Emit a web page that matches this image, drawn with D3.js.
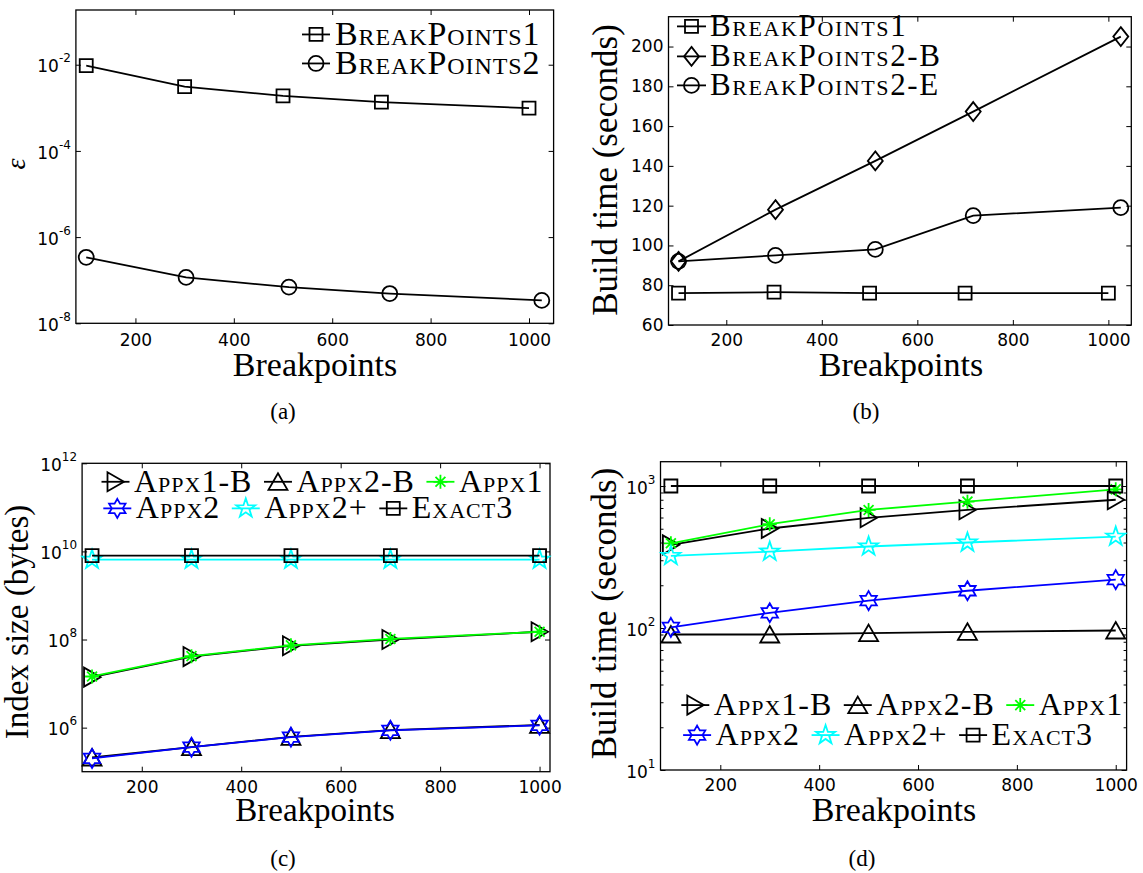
<!DOCTYPE html>
<html><head><meta charset="utf-8">
<script src="https://cdn.jsdelivr.net/npm/d3@7"></script>
<style>body{margin:0;background:#fff} svg{display:block;background:#fff}</style>
</head><body>
<svg id="chart" width="1143" height="873"></svg>
<script>
// ---------------- data ----------------
const xTicks = [200, 400, 600, 800, 1000];
const xBP1 = [100, 300, 500, 700, 1000];
const xBP2 = [100, 303, 512, 717, 1026];
const xAppx = [100, 300, 500, 700, 1000];

// (a) error epsilon
const epsBP1 = [9.5e-3, 3.1e-3, 1.9e-3, 1.36e-3, 9.8e-4];
const epsBP2 = [3.4e-7, 1.16e-7, 6.9e-8, 4.9e-8, 3.4e-8];
const epsTicks = [1e-8, 1e-6, 1e-4, 1e-2];

// (b) build time (seconds)
const timeBP1 = [76, 76.5, 76, 76, 76];
const timeBP2B = [92, 118, 142.5, 167.3, 205];
const timeBP2E = [92, 95, 98, 115, 119];
const timeTicksB = [60, 80, 100, 120, 140, 160, 180, 200];

// (c) index size (bytes)
const sizeAppx1B = [1.4e7, 4.1e7, 7.2e7, 1.0e8, 1.5e8];
const sizeAppx2B = [2.1e5, 3.6e5, 6.2e5, 8.8e5, 1.15e6];
const sizeAppx1 = [1.45e7, 4.2e7, 7.4e7, 1.03e8, 1.5e8];
const sizeAppx2 = [2.0e5, 3.6e5, 6.1e5, 8.7e5, 1.13e6];
const sizeAppx2p = [6.5e9, 6.5e9, 6.5e9, 6.5e9, 6.5e9];
const sizeExact3 = [8e9, 8e9, 8e9, 8e9, 8e9];
const sizeTicks = [1e6, 1e8, 1e10, 1e12];

// (d) build time (seconds)
const timeAppx1B = [385, 502, 597, 680, 800];
const timeAppx2B = [90, 90, 92, 94, 96];
const timeAppx1 = [395, 538, 678, 776, 948];
const timeAppx2 = [101, 128, 156, 183, 219];
const timeAppx2p = [322, 345, 375, 400, 440];
const timeExact3 = [1000, 1000, 1000, 1000, 1000];
const timeTicksD = [10, 100, 1000];

// ---------------- drawing ----------------
const SERIF = "'Liberation Serif','Times New Roman',serif";
const SANS = "'DejaVu Sans',Verdana,sans-serif";
const svg = d3.select("#chart");
svg.append("rect").attr("width", 1143).attr("height", 873).attr("fill", "#fff");

function starPath(n, R, r) {
  const pts = [];
  for (let i = 0; i < 2 * n; i++) {
    const a = -Math.PI / 2 + i * Math.PI / n;
    const rad = i % 2 === 0 ? R : r;
    pts.push([rad * Math.cos(a), rad * Math.sin(a)]);
  }
  return "M" + pts.map(p => p[0].toFixed(2) + "," + p[1].toFixed(2)).join("L") + "Z";
}
const MARKERS = {
  square: s => { const h = s / 2; return `M${-h},${-h}H${h}V${h}H${-h}Z`; },
  circle: r => `M${r},0A${r},${r} 0 1,1 ${-r},0A${r},${r} 0 1,1 ${r},0Z`,
  diamond: () => "M0,-9.5L7.5,0L0,9.5L-7.5,0Z",
  triRight: () => "M8.5,0L-8,-9.5L-8,9.5Z",
  triUp: () => "M0,-8.5L9.5,8L-9.5,8Z",
  hexagram: () => starPath(6, 9.5, 9.5 / Math.sqrt(3)),
  pentagram: () => starPath(5, 10, 3.9),
  asterisk: () => { const R = 7, d = R * 0.7071; return `M0,${-R}V${R}M${-R},0H${R}M${-d},${-d}L${d},${d}M${-d},${d}L${d},${-d}`; }
};
function markerPath(m) {
  if (m === "square") return MARKERS.square(13);
  if (m === "circle") return MARKERS.circle(7.5);
  return MARKERS[m]();
}

function drawPanel(p) {
  const g = svg.append("g");
  const x = d3.scaleLinear().domain(p.xDomain).range([p.left, p.right]);
  const y = (p.log ? d3.scaleLog() : d3.scaleLinear()).domain(p.yDomain).range([p.bottom, p.top]);

  const styleAxis = sel => {
    sel.select(".domain").remove();
    sel.attr("font-family", SANS).attr("font-size", 17);
    sel.selectAll(".tick line").attr("stroke", "#000").attr("stroke-width", 1);
    sel.selectAll(".tick text").attr("fill", "#000");
  };
  g.append("g").attr("transform", `translate(0,${p.bottom})`)
    .call(d3.axisBottom(x).tickValues(xTicks).tickSize(-5).tickPadding(p.xPad).tickFormat(d3.format("d")))
    .call(styleAxis);
  g.append("g").attr("transform", `translate(0,${p.top})`)
    .call(d3.axisTop(x).tickValues(xTicks).tickSize(-5).tickFormat(""))
    .call(styleAxis);
  const left = g.append("g").attr("transform", `translate(${p.left},0)`)
    .call(d3.axisLeft(y).tickValues(p.yTicks).tickSize(-5).tickPadding(5).tickFormat(p.log ? (() => "") : d3.format("d")))
    .call(styleAxis);
  if (p.log) {
    left.selectAll(".tick text").attr("dy", "0.42em").each(function (d) {
      const e = Math.round(Math.log10(d));
      const t = d3.select(this);
      t.text(null);
      t.append("tspan").text("10");
      t.append("tspan").attr("dy", -10).attr("font-size", 12).text(String(e));
    });
  }
  g.append("g").attr("transform", `translate(${p.right},0)`)
    .call(d3.axisRight(y).tickValues(p.yTicks).tickSize(-5).tickFormat(""))
    .call(styleAxis);
  if (p.minor) {
    g.append("g").attr("transform", `translate(${p.left},0)`)
      .call(d3.axisLeft(y).tickValues(p.minor).tickSize(-3).tickFormat("")).call(styleAxis);
    g.append("g").attr("transform", `translate(${p.right},0)`)
      .call(d3.axisRight(y).tickValues(p.minor).tickSize(-3).tickFormat("")).call(styleAxis);
  }
  g.append("rect").attr("x", p.left).attr("y", p.top)
    .attr("width", p.right - p.left).attr("height", p.bottom - p.top)
    .attr("fill", "none").attr("stroke", "#000").attr("stroke-width", 1.3);

  // series
  const line = d3.line().x(d => x(d[0])).y(d => y(d[1]));
  p.series.forEach(s => {
    const pts = s.x.map((xv, i) => [xv, s.y[i]]);
    const sg = g.append("g");
    sg.append("path").attr("d", line(pts)).attr("fill", "none")
      .attr("stroke", s.color).attr("stroke-width", 1.8);
    sg.selectAll("path.mk").data(pts).join("path").attr("class", "mk")
      .attr("d", markerPath(s.marker))
      .attr("transform", d => `translate(${x(d[0])},${y(d[1])})`)
      .attr("fill", "none").attr("stroke", s.color).attr("stroke-width", 1.8);
  });

  // legend
  const L = p.legend;
  const drawEntry = (s, sx, base) => {
    const cy = base - L.fontSize * 0.31;
    g.append("line").attr("x1", sx).attr("x2", sx + L.symLen).attr("y1", cy).attr("y2", cy)
      .attr("stroke", s.color).attr("stroke-width", 1.8);
    g.append("path").attr("d", markerPath(s.marker))
      .attr("transform", `translate(${sx + L.symLen / 2},${cy})`)
      .attr("fill", "none").attr("stroke", s.color).attr("stroke-width", 1.8);
    const t = g.append("text").attr("x", sx + L.symLen + L.textGap).attr("y", base)
      .attr("font-family", SERIF).attr("font-size", L.fontSize).attr("fill", "#000")
      .style("font-variant", "small-caps").style("letter-spacing", L.ls + "px")
      .text(s.name);
    return sx + L.symLen + L.textGap + t.node().getComputedTextLength();
  };
  L.rows.forEach((row, ri) => {
    let sx = L.starts[ri];
    row.forEach(idx => {
      const end = drawEntry(p.series[idx], sx, L.baselines[ri]);
      sx = L.column ? L.starts[ri] : end + L.itemGap;
    });
  });

  // axis labels & caption
  g.append("text").attr("x", p.xlabel.x).attr("y", p.xlabel.y).attr("text-anchor", "middle")
    .attr("font-family", SERIF).attr("font-size", p.xlabel.size).attr("fill", "#000").text("Breakpoints");
  g.append("text").attr("transform", `translate(${p.ylabel.x},${p.ylabel.y}) rotate(-90)`)
    .attr("text-anchor", "middle").attr("font-family", SERIF).attr("font-size", p.ylabel.size)
    .attr("font-style", p.ylabel.italic ? "italic" : "normal").attr("fill", "#000").text(p.ylabel.text);
  g.append("text").attr("x", p.caption.x).attr("y", p.caption.y).attr("text-anchor", "middle")
    .attr("font-family", SERIF).attr("font-size", 23).attr("fill", "#000").text(p.caption.text);
}

const minorD = [];
[10, 100, 1000].forEach(dec => { for (let k = 2; k <= 9; k++) if (dec * k < 1480) minorD.push(dec * k); });

const panels = [
  {
    left: 75.9, right: 553.6, top: 10, bottom: 323.3, xDomain: [79, 1050],
    log: true, yDomain: [1e-8, 0.186], yTicks: epsTicks, xPad: 11,
    series: [
      { name: "BreakPoints1", x: xBP1, y: epsBP1, color: "#000", marker: "square" },
      { name: "BreakPoints2", x: xBP2, y: epsBP2, color: "#000", marker: "circle" }
    ],
    legend: { column: true, rows: [[0], [1]], starts: [302, 302], baselines: [45, 74], symLen: 28, textGap: 5, fontSize: 34, ls: 0.9 },
    ylabel: { text: "ε", x: 24.5, y: 164, size: 28, italic: true },
    xlabel: { x: 315, y: 376, size: 34 }, caption: { x: 283, y: 419, text: "(a)" }
  },
  {
    left: 668.5, right: 1131.3, top: 16.7, bottom: 325, xDomain: [79, 1048],
    log: false, yDomain: [60, 215], yTicks: timeTicksB, xPad: 9,
    series: [
      { name: "BreakPoints1", x: xBP1, y: timeBP1, color: "#000", marker: "square" },
      { name: "BreakPoints2-B", x: xBP2, y: timeBP2B, color: "#000", marker: "diamond" },
      { name: "BreakPoints2-E", x: xBP2, y: timeBP2E, color: "#000", marker: "circle" }
    ],
    legend: { column: true, rows: [[0], [1], [2]], starts: [677, 677, 677], baselines: [36, 66, 95], symLen: 29, textGap: 4, fontSize: 31, ls: 1.6 },
    ylabel: { text: "Build time (seconds)", x: 616.7, y: 170, size: 35 },
    xlabel: { x: 901, y: 376, size: 34 }, caption: { x: 866, y: 419, text: "(b)" }
  },
  {
    left: 82.1, right: 550, top: 463.3, bottom: 771.7, xDomain: [80, 1021],
    log: true, yDomain: [1e5, 1e12], yTicks: sizeTicks, xPad: 9,
    series: [
      { name: "Appx1-B", x: xAppx, y: sizeAppx1B, color: "#000", marker: "triRight" },
      { name: "Appx2-B", x: xAppx, y: sizeAppx2B, color: "#000", marker: "triUp" },
      { name: "Appx1", x: xAppx, y: sizeAppx1, color: "#00ff00", marker: "asterisk" },
      { name: "Appx2", x: xAppx, y: sizeAppx2, color: "#0000ff", marker: "hexagram" },
      { name: "Appx2+", x: xAppx, y: sizeAppx2p, color: "#00ffff", marker: "pentagram" },
      { name: "Exact3", x: xAppx, y: sizeExact3, color: "#000", marker: "square" }
    ],
    legend: { column: false, rows: [[0, 1, 2], [3, 4, 5]], starts: [101.5, 103.3], baselines: [491.7, 518.3], symLen: 28, textGap: 4.5, itemGap: 11.5, fontSize: 32, ls: 1 },
    ylabel: { text: "Index size (bytes)", x: 28, y: 622, size: 33 },
    xlabel: { x: 315, y: 821, size: 33 }, caption: { x: 283, y: 866, text: "(c)" }
  },
  {
    left: 660.5, right: 1126.6, top: 461.7, bottom: 770, xDomain: [79, 1022],
    log: true, yDomain: [10, 1483], yTicks: timeTicksD, xPad: 9, minor: minorD,
    series: [
      { name: "Appx1-B", x: xAppx, y: timeAppx1B, color: "#000", marker: "triRight" },
      { name: "Appx2-B", x: xAppx, y: timeAppx2B, color: "#000", marker: "triUp" },
      { name: "Appx1", x: xAppx, y: timeAppx1, color: "#00ff00", marker: "asterisk" },
      { name: "Appx2", x: xAppx, y: timeAppx2, color: "#0000ff", marker: "hexagram" },
      { name: "Appx2+", x: xAppx, y: timeAppx2p, color: "#00ffff", marker: "pentagram" },
      { name: "Exact3", x: xAppx, y: timeExact3, color: "#000", marker: "square" }
    ],
    legend: { column: false, rows: [[0, 1, 2], [3, 4, 5]], starts: [681.3, 683.1], baselines: [715, 745], symLen: 28, textGap: 4.5, itemGap: 11.5, fontSize: 32, ls: 1 },
    ylabel: { text: "Build time (seconds)", x: 615.5, y: 613.5, size: 35 },
    xlabel: { x: 894, y: 821, size: 34 }, caption: { x: 862, y: 866, text: "(d)" }
  }
];
panels.forEach(drawPanel);
</script>
</body></html>
